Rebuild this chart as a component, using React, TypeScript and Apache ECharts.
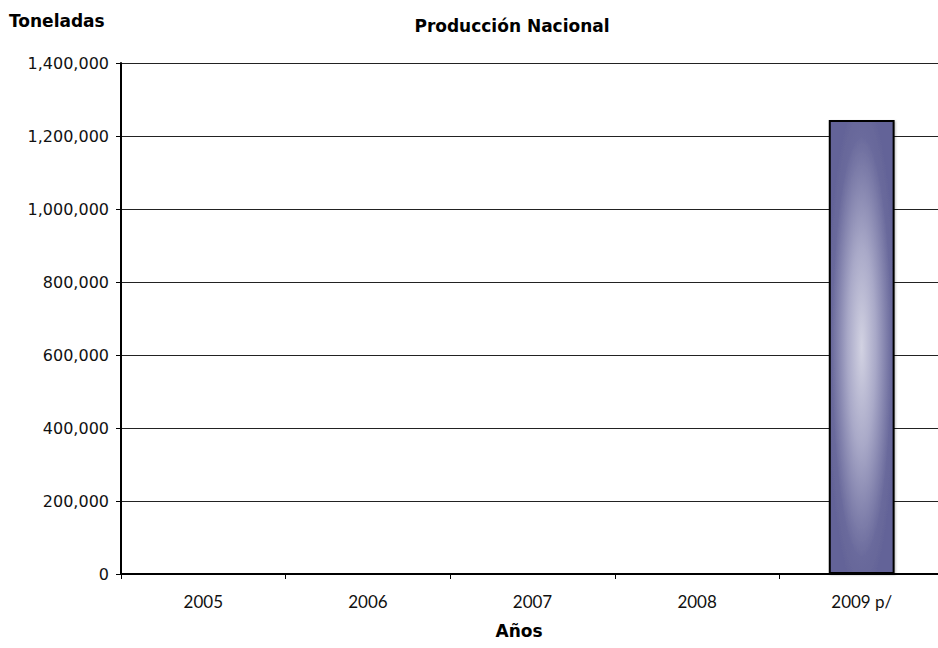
import React, { useEffect, useRef } from "react";
import * as echarts from "echarts";

const categories = ["2005", "2006", "2007", "2008", "2009 p/"];
const produccion: (number | null)[] = [0, 0, 0, 0, 1244000];
const yTicks = { min: 0, max: 1400000, interval: 200000 };
const chartTitle = "Producción Nacional";
const yName = "Toneladas";
const xName = "Años";

export default function App() {
  const ref = useRef<HTMLDivElement>(null);
  useEffect(() => {
    if (!ref.current) return;
    const chart = echarts.init(ref.current, undefined, { renderer: "svg" });
    chart.setOption({
      animation: false,
      backgroundColor: "#ffffff",
      grid: { left: 121, right: 0, top: 63, height: 511, containLabel: false },
      xAxis: {
        type: "category",
        data: categories,
        boundaryGap: true,
        axisLine: { show: true, lineStyle: { color: "#000", width: 2 } },
        axisTick: { show: true, length: 5, alignWithLabel: false, lineStyle: { color: "#000", width: 1 } },
        axisLabel: { margin: 19, color: "#111", fontFamily: "Lato", fontSize: 17 },
        splitLine: { show: false },
      },
      yAxis: {
        type: "value",
        min: yTicks.min,
        max: yTicks.max,
        interval: yTicks.interval,
        axisLine: { show: true, lineStyle: { color: "#000", width: 2 } },
        axisTick: { show: true, length: 5, lineStyle: { color: "#000", width: 1 } },
        axisLabel: {
          margin: 12,
          color: "#111",
          fontFamily: "DejaVu Sans",
          fontSize: 16,
          formatter: (v: number) => v.toLocaleString("en-US"),
        },
        splitLine: { show: true, lineStyle: { color: "#222", width: 1 } },
      },
      series: [
        {
          type: "bar",
          data: produccion,
          barWidth: "40%",
          itemStyle: {
            borderColor: "#000",
            borderWidth: 2,
            color: {
              type: "radial",
              x: 0.5,
              y: 0.5,
              r: 0.55,
              colorStops: [
                { offset: 0, color: "#d2d2e2" },
                { offset: 0.4, color: "#a9a9c8" },
                { offset: 0.85, color: "#6a6a9c" },
                { offset: 1, color: "#646498" },
              ],
            },
            shadowColor: "rgba(0,0,0,0.25)",
            shadowBlur: 2,
            shadowOffsetX: 1,
            shadowOffsetY: 1,
          },
        },
      ],
      graphic: [
        {
          type: "text",
          x: 9,
          y: 21,
          style: { text: yName, font: "bold 17px 'DejaVu Sans'", fill: "#000", verticalAlign: "middle" },
        },
        {
          type: "text",
          x: 512,
          y: 26,
          style: {
            text: chartTitle,
            font: "bold 17px 'DejaVu Sans'",
            fill: "#000",
            align: "center",
            verticalAlign: "middle",
          },
        },
        {
          type: "text",
          x: 519,
          y: 631,
          style: {
            text: xName,
            font: "bold 17px 'DejaVu Sans'",
            fill: "#000",
            align: "center",
            verticalAlign: "middle",
          },
        },
      ],
    });
    return () => chart.dispose();
  }, []);
  return (
    <div
      ref={ref}
      style={{ position: "fixed", left: 0, top: 0, width: 944, height: 648 }}
    />
  );
}
